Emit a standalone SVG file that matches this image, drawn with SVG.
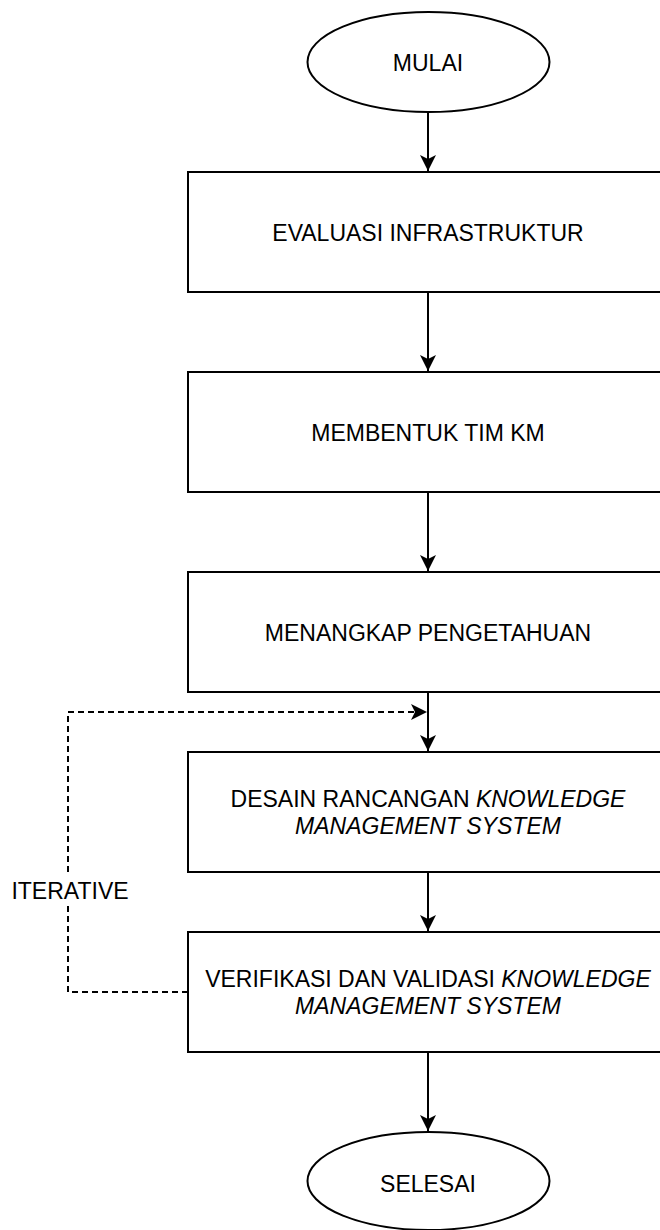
<svg xmlns="http://www.w3.org/2000/svg" width="660" height="1230" viewBox="0 0 660 1230">
<style>
.shape{fill:#fff;stroke:#000;stroke-width:2}
.t{font-family:"Liberation Sans",Arial,sans-serif;font-size:23px;fill:#000;text-anchor:middle}
.i{font-style:italic}
.edge{fill:none;stroke:#000;stroke-width:2}
.dash{stroke-dasharray:6 4}
</style>
<defs>
<marker id="arr" markerUnits="userSpaceOnUse" markerWidth="18" markerHeight="18" viewBox="-17 -9 18 18" refX="0" refY="0" orient="auto">
<path d="M0,0 L-16,-8 L-12,0 L-16,8 Z" fill="#000"/>
</marker>
</defs>
<rect width="660" height="1230" fill="#fff"/>
<g id="connectors">
<line class="edge" x1="428" y1="112" x2="428" y2="171" marker-end="url(#arr)"/>
<line class="edge" x1="428" y1="292" x2="428" y2="371" marker-end="url(#arr)"/>
<line class="edge" x1="428" y1="492" x2="428" y2="571" marker-end="url(#arr)"/>
<line class="edge" x1="428" y1="692" x2="428" y2="751" marker-end="url(#arr)"/>
<line class="edge" x1="428" y1="872" x2="428" y2="931" marker-end="url(#arr)"/>
<line class="edge" x1="428" y1="1052" x2="428" y2="1131" marker-end="url(#arr)"/>
<path class="edge dash" d="M188,992 L68,992 L68,712 L427,712" marker-end="url(#arr)"/>
<g id="label-iterative">
<rect x="12" y="875" width="116" height="28" fill="#fff"/>
<text class="t" x="70" y="899">ITERATIVE</text>
</g>
</g>
<g id="mulai">
<ellipse class="shape" cx="428.5" cy="62" rx="121" ry="50"/>
<text class="t" x="428" y="71">MULAI</text>
</g>
<g id="evaluasi">
<rect class="shape" x="188" y="172" width="480" height="120"/>
<text class="t" x="428" y="241">EVALUASI INFRASTRUKTUR</text>
</g>
<g id="membentuk">
<rect class="shape" x="188" y="372" width="480" height="120"/>
<text class="t" x="428" y="441">MEMBENTUK TIM KM</text>
</g>
<g id="menangkap">
<rect class="shape" x="188" y="572" width="480" height="120"/>
<text class="t" x="428" y="641">MENANGKAP PENGETAHUAN</text>
</g>
<g id="desain">
<rect class="shape" x="188" y="752" width="480" height="120"/>
<text class="t" x="428" y="807">DESAIN RANCANGAN <tspan class="i">KNOWLEDGE</tspan></text>
<text class="t i" x="428" y="834">MANAGEMENT SYSTEM</text>
</g>
<g id="verifikasi">
<rect class="shape" x="188" y="932" width="480" height="120"/>
<text class="t" x="428" y="987">VERIFIKASI DAN VALIDASI <tspan class="i">KNOWLEDGE</tspan></text>
<text class="t i" x="428" y="1014">MANAGEMENT SYSTEM</text>
</g>
<g id="selesai">
<ellipse class="shape" cx="428.5" cy="1181" rx="121" ry="49"/>
<text class="t" x="428" y="1192">SELESAI</text>
</g>
</svg>
